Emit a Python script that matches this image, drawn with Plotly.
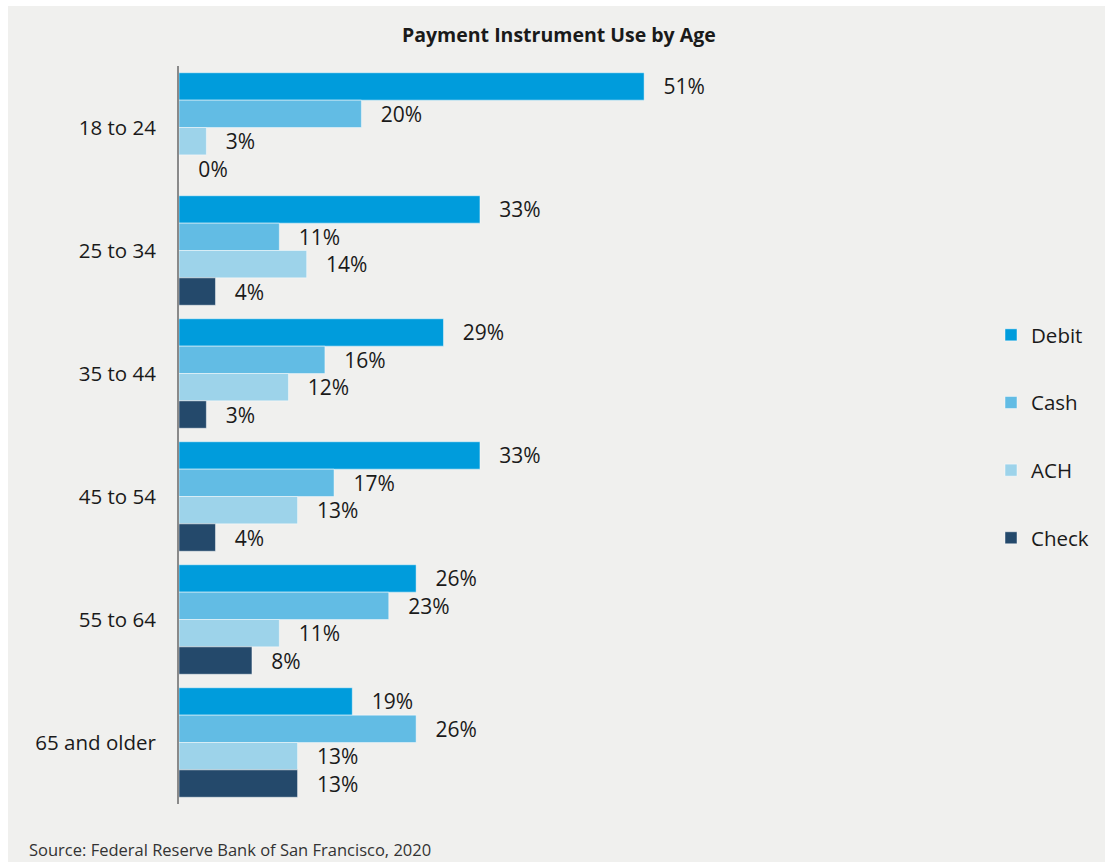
import plotly.graph_objects as go

# Payment instrument use by age group (share of payments, %)
age_groups = ["18 to 24", "25 to 34", "35 to 44", "45 to 54", "55 to 64", "65 and older"]
debit = [51, 33, 29, 33, 26, 19]
cash = [20, 11, 16, 17, 23, 26]
ach = [3, 14, 12, 13, 11, 13]
check = [0, 4, 3, 4, 8, 13]

series_names = ["Debit", "Cash", "ACH", "Check"]
series_values = [debit, cash, ach, check]
series_colors = ["#009cdc", "#62bce4", "#9dd3ea", "#24496b"]

title_text = "Payment Instrument Use by Age"
source_text = "Source: Federal Reserve Bank of San Francisco, 2020"

W, H = 1105, 862
ML, MR, MT, MB = 179, 164, 66, 58
PW, PH = W - ML - MR, H - MT - MB
BG = "#f0f0ee"
FONT = "'Open Sans', 'Noto Sans', sans-serif"
TXT = "#1a1a1a"


def px_x(x):
    return (x - ML) / PW


def px_y(y):
    return (H - MB - y) / PH


fig = go.Figure()
for i, (name, vals, col) in enumerate(zip(series_names, series_values, series_colors)):
    fig.add_trace(go.Bar(
        name=name,
        y=age_groups,
        x=vals,
        orientation="h",
        marker=dict(color=col, line=dict(color="rgba(255,255,255,0.45)", width=1)),
        text=[f"\u00a0\u00a0\u00a0{v}%" for v in vals],
        textposition="outside",
        textfont=dict(family=FONT, size=21, color=TXT),
        constraintext="none",
        cliponaxis=False,
        legendgroup=name,
        hoverinfo="skip",
    ))

fig.update_layout(
    width=W, height=H,
    margin=dict(l=ML, r=MR, t=MT, b=MB, autoexpand=False),
    paper_bgcolor=BG,
    plot_bgcolor=BG,
    barmode="group",
    bargap=0.11,
    bargroupgap=0,
    font=dict(family=FONT, size=20.5, color=TXT),
    showlegend=True,
    legend=dict(
        x=px_x(991), y=px_y(315), xanchor="left", yanchor="top",
        bgcolor="rgba(0,0,0,0)",
        font=dict(family=FONT, size=20.5, color=TXT),
        tracegroupgap=38,
        itemwidth=30,
        traceorder="grouped",
    ),
    xaxis=dict(
        range=[0, PW / 9.12],
        showgrid=False, zeroline=False, showline=False,
        showticklabels=False, ticks="",
    ),
    yaxis=dict(
        autorange="reversed",
        showgrid=False, zeroline=False,
        showline=True, linecolor="#8a8a8a", linewidth=2,
        ticks="outside", ticklen=17, tickcolor="rgba(0,0,0,0)",
        tickfont=dict(family=FONT, size=20.5, color=TXT),
    ),
    annotations=[
        dict(text=f"<b>{title_text}</b>", x=px_x(559), y=px_y(35),
             xref="paper", yref="paper", xanchor="center", yanchor="middle",
             showarrow=False, font=dict(family=FONT, size=19.5, color=TXT)),
        dict(text=source_text, x=px_x(27), y=px_y(849),
             xref="paper", yref="paper", xanchor="left", yanchor="middle",
             showarrow=False, font=dict(family=FONT, size=16.5, color="#333333")),
    ],
    shapes=[
        # white frame along the top and left edges
        dict(type="rect", xref="paper", yref="paper",
             x0=px_x(0), x1=px_x(W), y0=px_y(6), y1=px_y(0),
             fillcolor="white", line=dict(width=0)),
        dict(type="rect", xref="paper", yref="paper",
             x0=px_x(0), x1=px_x(8), y0=px_y(H), y1=px_y(0),
             fillcolor="white", line=dict(width=0)),
    ],
)

fig.write_html("out.html")
